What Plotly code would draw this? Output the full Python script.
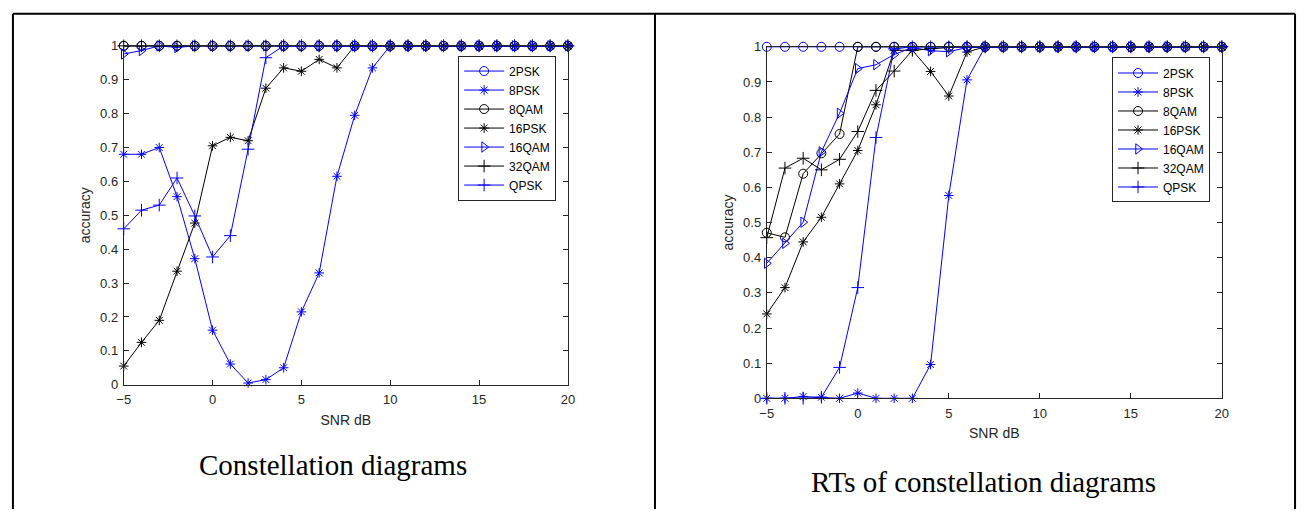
import plotly.graph_objects as go

# SNR grid (dB)
snr = list(range(-5, 21))

# Accuracy per modulation, constellation-diagram input
cd_2psk = [1.0] * 26
cd_8psk = [0.68, 0.68, 0.70, 0.555, 0.372, 0.161, 0.061, 0.005, 0.015, 0.05,
           0.215, 0.33, 0.615, 0.795, 0.935, 1.0] + [1.0] * 10
cd_8qam = [1.0] * 26
cd_16psk = [0.055, 0.125, 0.19, 0.335, 0.477, 0.705, 0.73, 0.72, 0.875, 0.935,
            0.925, 0.96, 0.935, 1.0] + [1.0] * 12
cd_16qam = [0.976, 0.986, 1.0, 0.995, 1.0] + [1.0] * 21
cd_32qam = [1.0] * 26
cd_qpsk = [0.46, 0.515, 0.53, 0.61, 0.498, 0.377, 0.44, 0.695, 0.965, 1.0] + [1.0] * 16

# Accuracy per modulation, RT-of-constellation input
rt_2psk = [1.0] * 26
rt_8psk = [0.0, 0.0, 0.005, 0.003, 0.0, 0.015, 0.0, 0.0, 0.0, 0.096,
           0.577, 0.906, 1.0] + [1.0] * 13
rt_8qam = [0.471, 0.458, 0.639, 0.697, 0.752, 1.0] + [1.0] * 20
rt_16psk = [0.24, 0.315, 0.445, 0.515, 0.61, 0.705, 0.835, 0.99, 0.99, 0.93,
            0.86, 0.985, 1.0] + [1.0] * 13
rt_16qam = [0.384, 0.441, 0.501, 0.701, 0.811, 0.938, 0.949, 0.978, 0.998, 0.989,
            0.986, 0.998, 1.0] + [1.0] * 13
rt_32qam = [0.457, 0.655, 0.683, 0.65, 0.68, 0.759, 0.876, 0.931, 0.99, 0.995,
            0.998, 1.0] + [1.0] * 14
rt_qpsk = [0.0, 0.0, 0.0, 0.003, 0.088, 0.315, 0.742, 0.994, 1.0] + [1.0] * 17

names = ["2PSK", "8PSK", "8QAM", "16PSK", "16QAM", "32QAM", "QPSK"]
colors = ["#0000ff", "#0000ff", "#000000", "#000000", "#0000ff", "#000000", "#0000ff"]
symbols = ["circle-open", "asterisk-open", "circle-open", "asterisk-open",
           "triangle-right-open", "cross-thin-open", "cross-thin-open"]
sizes = [9, 8, 9, 8, 9, 9, 9]

left_sets = [cd_2psk, cd_8psk, cd_8qam, cd_16psk, cd_16qam, cd_32qam, cd_qpsk]
right_sets = [rt_2psk, rt_8psk, rt_8qam, rt_16psk, rt_16qam, rt_32qam, rt_qpsk]

W, H = 1306, 517
fig = go.Figure()


def px_x(p):
    return p / W


def px_y(p):
    return 1 - p / H


for sets, xa, ya, lg in [(left_sets, "x", "y", "legend"),
                         (right_sets, "x2", "y2", "legend2")]:
    for name, col, sym, sz, vals in zip(names, colors, symbols, sizes, sets):
        fig.add_trace(go.Scatter(
            x=snr, y=vals, name=name, mode="lines+markers",
            xaxis=xa, yaxis=ya, legend=lg, cliponaxis=False,
            line=dict(color=col, width=1),
            marker=dict(symbol=sym, size=sz, color=col,
                        line=dict(color=col, width=1)),
        ))

FONT = "Liberation Sans, Arial"
INK = "#262626"

axis_common = dict(
    showgrid=False, zeroline=False, showline=True, mirror="ticks",
    linecolor=INK, linewidth=1, ticks="inside", ticklen=5,
    tickcolor=INK, tickfont=dict(family=FONT, size=13, color=INK),
)

xcfg = dict(axis_common, range=[-5, 20], tickvals=[-5, 0, 5, 10, 15, 20],
            ticklabelstandoff=3,
            title=dict(text="SNR dB", standoff=8,
                       font=dict(family=FONT, size=14, color=INK)))
ycfg = dict(axis_common, range=[0, 1], tickvals=[i / 10 for i in range(11)],
            ticktext=["0", "0.1", "0.2", "0.3", "0.4", "0.5", "0.6", "0.7", "0.8", "0.9", "1"],
            ticklabelstandoff=2,
            title=dict(text="accuracy", standoff=6,
                       font=dict(family=FONT, size=14, color=INK)))

legend_common = dict(
    bgcolor="white", bordercolor=INK, borderwidth=1,
    font=dict(family=FONT, size=12, color="#000000"),
    itemwidth=40, xanchor="left", yanchor="top", tracegroupgap=0,
)

fig.update_layout(
    width=W, height=H, margin=dict(l=0, r=0, t=0, b=0),
    paper_bgcolor="white", plot_bgcolor="white", showlegend=True,
    xaxis=dict(xcfg, domain=[px_x(118), px_x(567)], anchor="y"),
    yaxis=dict(ycfg, domain=[px_y(389), px_y(40)], anchor="x"),
    xaxis2=dict(xcfg, domain=[px_x(768), px_x(1228)], anchor="y2"),
    yaxis2=dict(ycfg, domain=[px_y(403), px_y(41)], anchor="x2"),
    legend=dict(legend_common, x=px_x(456), y=px_y(50)),
    legend2=dict(legend_common, x=px_x(1117), y=px_y(52)),
)

# Panel frame
frame = dict(type="line", xref="paper", yref="paper", line=dict(color="#000000", width=2))
fig.add_shape(frame, x0=px_x(6), x1=px_x(1302), y0=px_y(7), y1=px_y(7))
fig.add_shape(frame, x0=px_x(6), x1=px_x(6), y0=px_y(7), y1=0)
fig.add_shape(frame, x0=px_x(655), x1=px_x(655), y0=px_y(7), y1=0)
fig.add_shape(frame, x0=px_x(1302), x1=px_x(1302), y0=px_y(7), y1=0)

# Panel captions
cap_font = dict(family="Liberation Serif, Times New Roman", size=29, color="#000000")
fig.add_annotation(text="Constellation diagrams", xref="paper", yref="paper",
                   x=px_x(330), y=px_y(472), xanchor="center", yanchor="middle",
                   showarrow=False, font=cap_font)
fig.add_annotation(text="RTs of constellation diagrams", xref="paper", yref="paper",
                   x=px_x(987), y=px_y(489), xanchor="center", yanchor="middle",
                   showarrow=False, font=cap_font)

fig.write_html("out.html")
